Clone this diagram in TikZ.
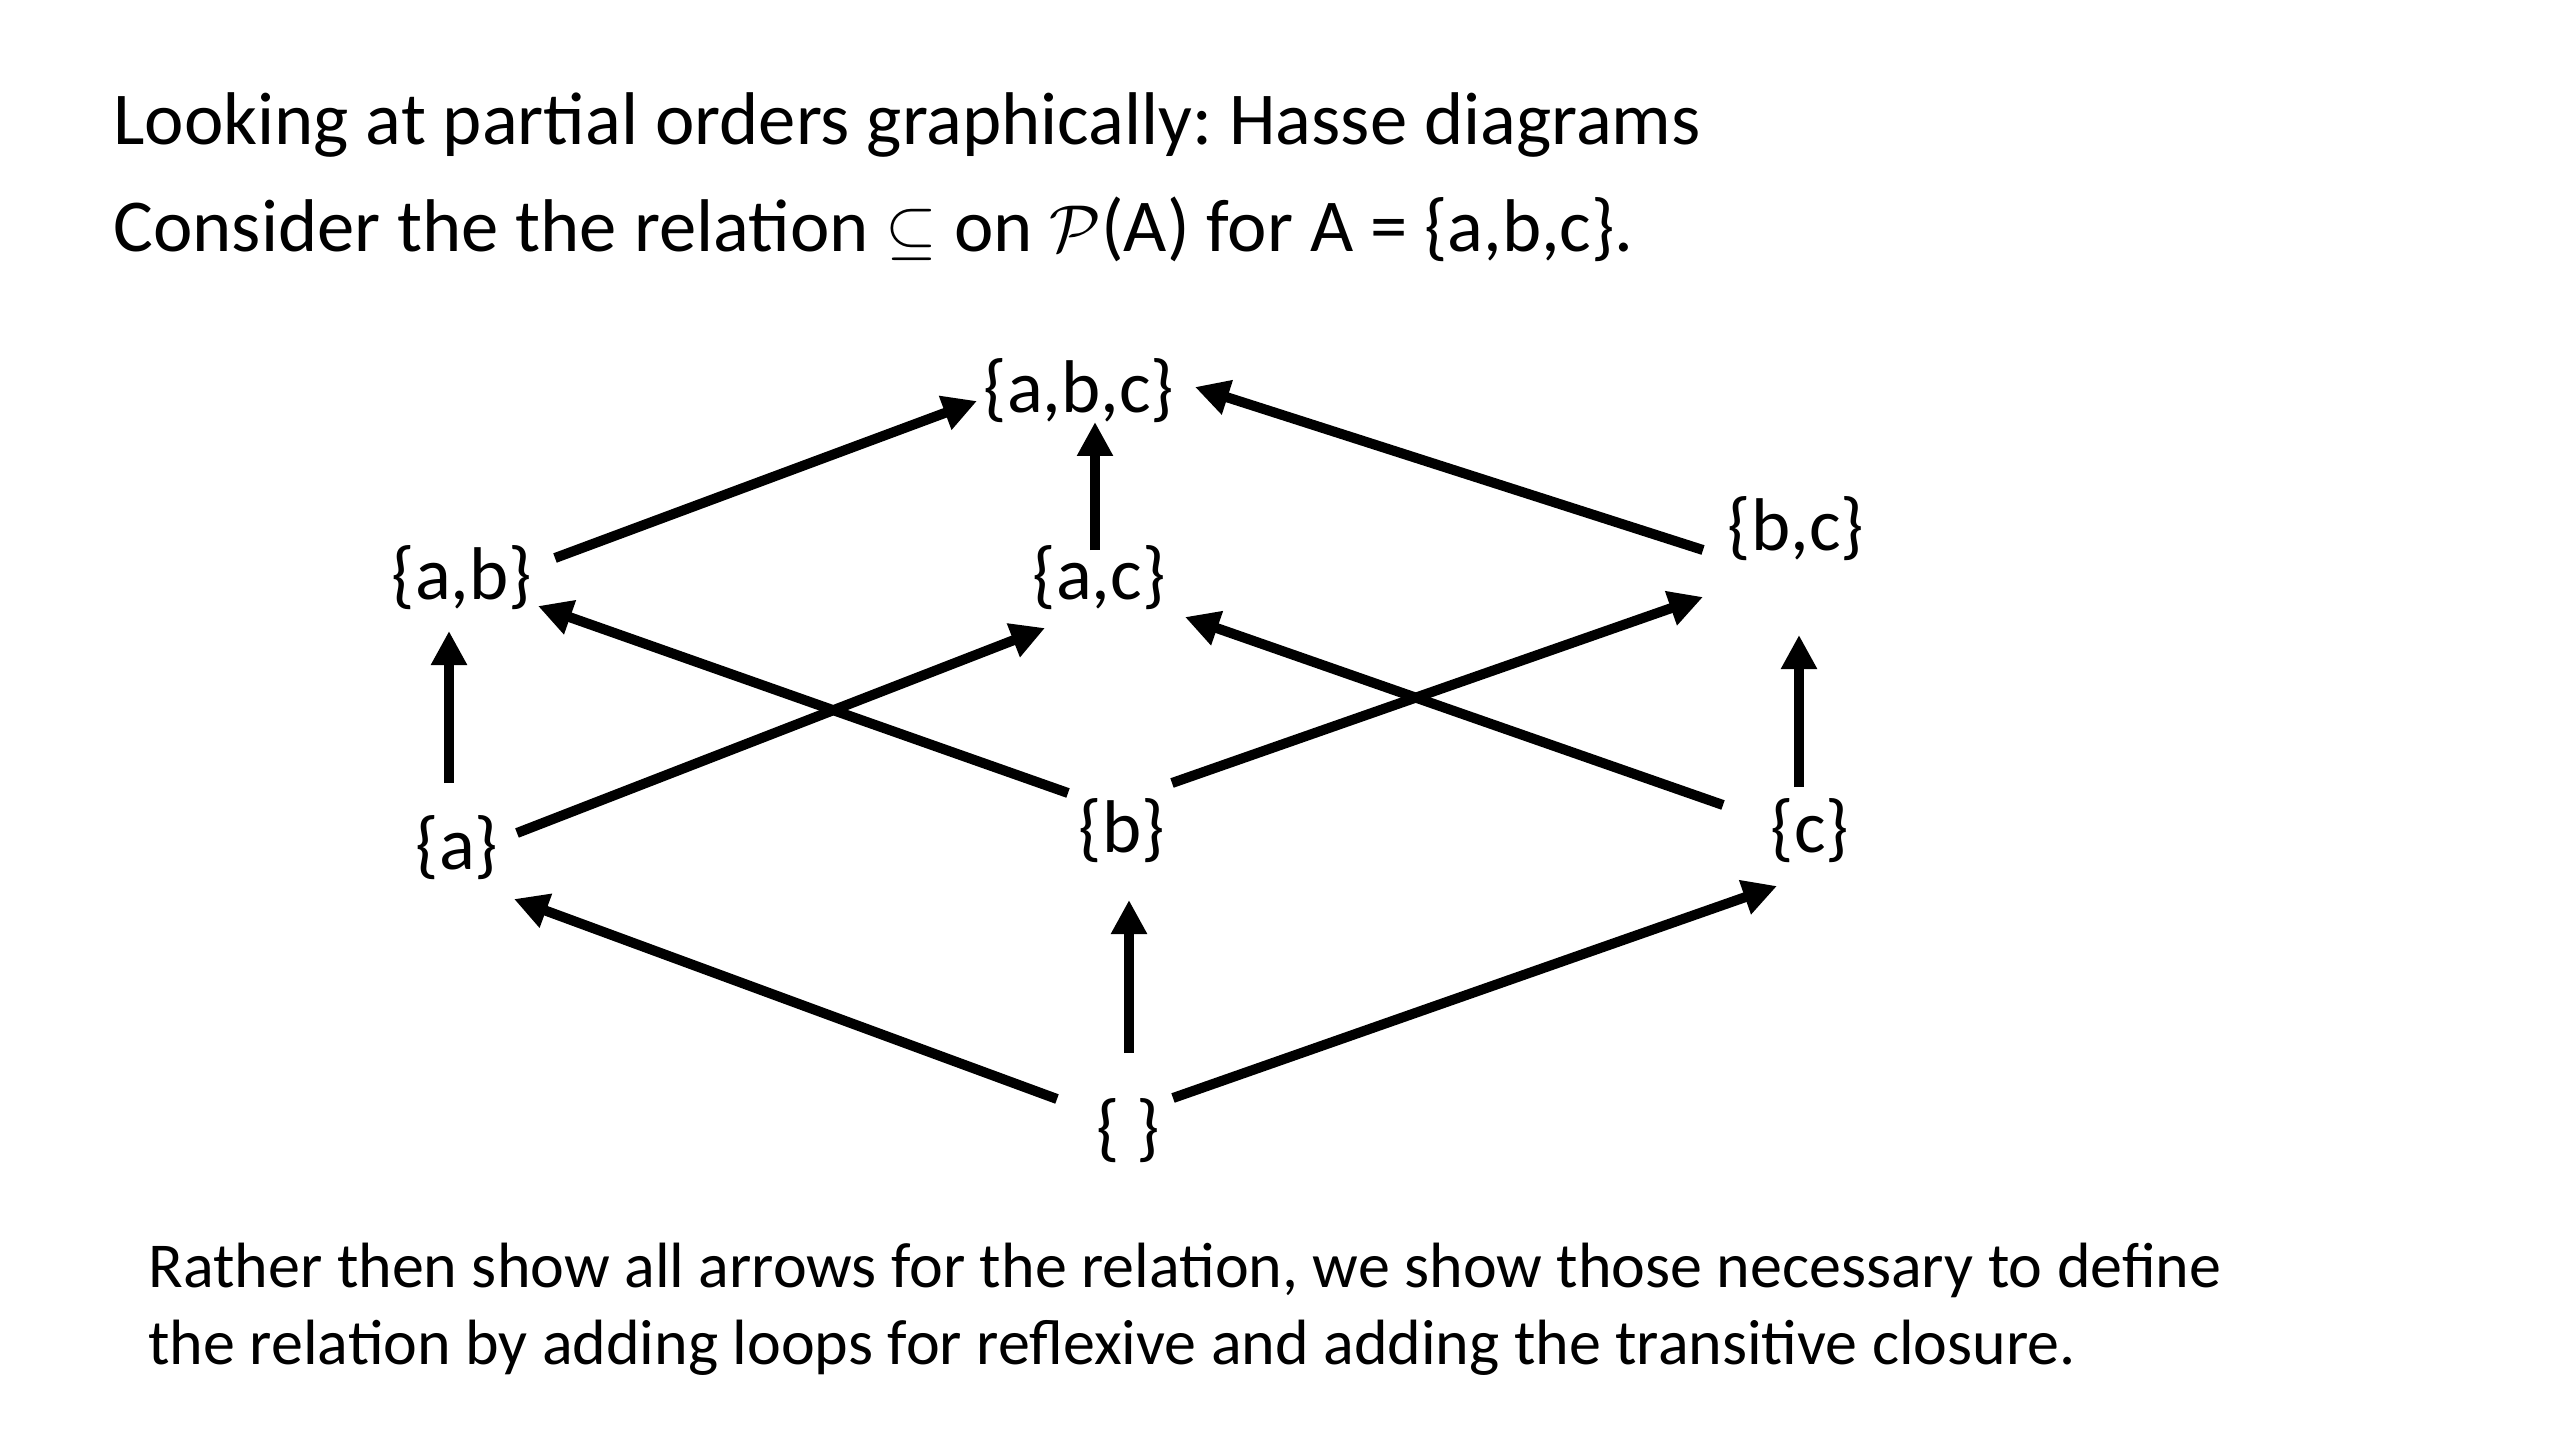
\documentclass[tikz,border=0pt]{standalone}
\usepackage{fontspec}
\setmainfont{Carlito}
\usetikzlibrary{arrows.meta,calc}
\begin{document}
\frenchspacing
\begin{tikzpicture}[x=0.375pt,y=-0.375pt,
  settext/.style={inner sep=0pt,font=\fontsize{28}{34}\selectfont},
  hasse/.style={line width=3.75pt,-{Triangle[length=12.75pt,width=12.75pt]}},
  titletext/.style={inner sep=0pt,anchor=base west,font=\fontsize{28}{34}\selectfont},
  bodytext/.style={inner sep=0pt,anchor=base west,font=\fontsize{24}{29}\selectfont}]
\useasboundingbox (0,0) rectangle (2560,1440);
\node[titletext] (t1) at (113,145) {Looking at partial orders graphically: Hasse diagrams};
\node[titletext] (t2) at (113,252) {Consider the the relation $\subseteq$ on $\mathcal{P}$(A) for A = \{a,b,c\}.};
\node[bodytext] (b1) at (148,1287) {Rather then show all arrows for the relation, we show those necessary to define};
\node[bodytext] (b2) at (148,1364) {the relation by adding loops for reflexive and adding the transitive closure.};
\node[settext] (abc) at (1079,391) {\{a,b,c\}};
\node[settext] (ab) at (462,578) {\{a,b\}};
\node[settext] (ac) at (1099,578) {\{a,c\}};
\node[settext] (bc) at (1796,529) {\{b,c\}};
\node[settext] (a) at (457,848) {\{a\}};
\node[settext] (b) at (1122,831) {\{b\}};
\node[settext] (c) at (1810,831) {\{c\}};
\node[settext] (e) at (1128,1131) {\{ \}};
\draw[hasse] ($(ab)+(93,-20)$) -- ($(abc)+(-102,10)$);
\draw[hasse] ($(ac)+(-4,-28)$) -- ($(abc)+(16,31)$);
\draw[hasse] ($(bc)+(-93,21)$) -- ($(abc)+(116,-4)$);
\draw[hasse] ($(a)+(-8,-65)$) -- ($(ab)+(-13,53)$);
\draw[hasse] ($(b)+(-54,-38)$) -- ($(ab)+(76,28)$);
\draw[hasse] ($(a)+(60,-15)$) -- ($(ac)+(-54,50)$);
\draw[hasse] ($(b)+(50,-48)$) -- ($(bc)+(-93,68)$);
\draw[hasse] ($(c)+(-87,-26)$) -- ($(ac)+(86,39)$);
\draw[hasse] ($(c)+(-11,-44)$) -- ($(bc)+(3,106)$);
\draw[hasse] ($(e)+(-71,-32)$) -- ($(a)+(57,51)$);
\draw[hasse] ($(e)+(1,-78)$) -- ($(b)+(7,69)$);
\draw[hasse] ($(e)+(45,-33)$) -- ($(c)+(-33,55)$);
\end{tikzpicture}
\end{document}
